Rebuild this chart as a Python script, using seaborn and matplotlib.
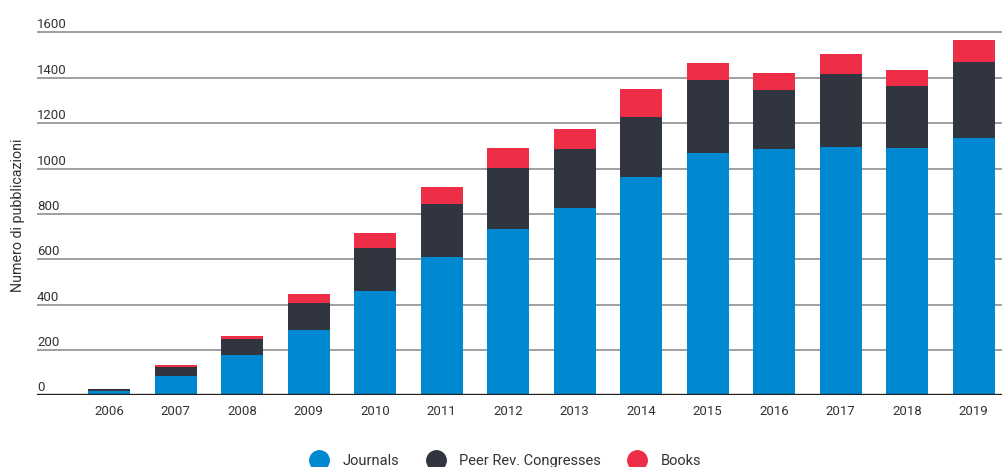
import matplotlib
matplotlib.use("Agg")
import matplotlib.pyplot as plt
import matplotlib.transforms as mtransforms
from matplotlib.lines import Line2D
import numpy as np
import pandas as pd
import seaborn as sns

# Publications per year, by type
years = [2006, 2007, 2008, 2009, 2010, 2011, 2012, 2013, 2014, 2015, 2016, 2017, 2018, 2019]
journals = [18, 85, 178, 288, 460, 610, 734, 826, 963, 1068, 1086, 1095, 1090, 1134]
congresses = [10, 40, 70, 119, 190, 234, 268, 260, 264, 322, 260, 322, 274, 336]
books = [0, 9, 14, 40, 66, 75, 88, 88, 124, 76, 75, 88, 71, 97]

series_names = ["Journals", "Peer Rev. Congresses", "Books"]
series_colors = ["#0088D1", "#31353F", "#EE2D47"]
y_ticks = [0, 200, 400, 600, 800, 1000, 1200, 1400, 1600]
y_label = "Numero di pubblicazioni"

sns.set_theme(style="white")
plt.rcParams["font.family"] = ["Roboto", "DejaVu Sans"]
text_color = "#333333"

df = pd.DataFrame({"year": [str(y) for y in years],
                   "journals": journals,
                   "congresses": congresses,
                   "books": books})
df["lvl1"] = df["journals"]
df["lvl2"] = df["lvl1"] + df["congresses"]
df["lvl3"] = df["lvl2"] + df["books"]

fig = plt.figure(figsize=(10.03, 4.67), dpi=100)
ax = fig.add_axes([37 / 1003, (467 - 395.3) / 467, 1 - 37 / 1003, (395.3 - 23.4) / 467])

# Stacked bars: draw cumulative totals from the top layer down
for col, color in zip(["lvl3", "lvl2", "lvl1"], series_colors[::-1]):
    sns.barplot(data=df, x="year", y=col, color=color, width=0.63,
                saturation=1, ax=ax, zorder=3, linewidth=0)

ax.set_xlim(-1.083, 13.44)
ax.set_ylim(0, 1640)

# Horizontal grid lines
for v in y_ticks[1:]:
    ax.axhline(v, color="#8F8F8F", linewidth=1.2, zorder=1)
ax.axhline(0, color="#231F20", linewidth=2.4, zorder=4)

for s in ax.spines.values():
    s.set_visible(False)

ax.set_yticks([])
ax.set_ylabel("")
ax.set_xlabel("")
ax.tick_params(axis="x", length=0, pad=7, labelsize=9.5, labelcolor=text_color)

# Y tick labels sit just above their grid lines
ytrans = mtransforms.offset_copy(ax.get_yaxis_transform(), fig=fig, x=0, y=4, units="dots")
for v in y_ticks:
    ax.text(0, v, str(v), transform=ytrans, ha="left", va="baseline",
            fontsize=9.5, color=text_color)

fig.text(18 / 1003, 1 - 215 / 467, y_label, rotation=90, ha="center", va="center",
         fontsize=10.3, color=text_color)

handles = [Line2D([0], [0], marker="o", linestyle="none", markersize=14,
                  markerfacecolor=c, markeredgecolor=c) for c in series_colors]
fig.legend(handles, series_names, loc="center", ncol=3, frameon=False,
           bbox_to_anchor=(503 / 1003, 1 - 461 / 467), fontsize=10.5,
           handletextpad=0.6, columnspacing=1.5, labelcolor=text_color)

fig.savefig("out.png", dpi=100)
